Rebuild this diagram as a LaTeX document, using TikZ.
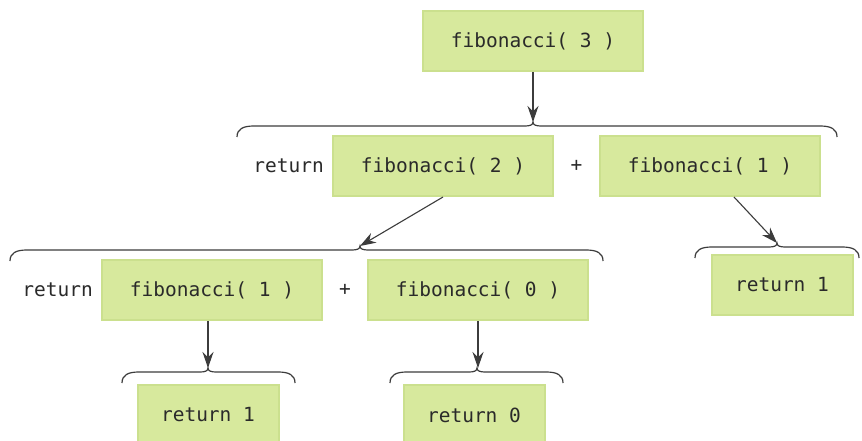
\documentclass[tikz,border=0pt]{standalone}
\usepackage{fontspec}
\setmonofont{DejaVu Sans Mono}
\usepackage{xcolor}
\usetikzlibrary{positioning,arrows.meta}
\definecolor{verdecaja}{HTML}{D7E99D}
\definecolor{bordecaja}{HTML}{CBE08E}
\definecolor{linea}{HTML}{3C3C3C}
\definecolor{texto}{HTML}{2A2A2A}

% llave horizontal: izquierda, derecha, punta, y
\newcommand{\llave}[4]{%
  \draw[linea, line width=1.2pt] (#1,#4) .. controls (#1,#4-8) and (#1+6,#4-11) .. (#1+17,#4-11)
    -- (#3-8,#4-11) .. controls (#3-3,#4-11) and (#3,#4-12) .. (#3,#4-15)
    .. controls (#3,#4-12) and (#3+3,#4-11) .. (#3+8,#4-11)
    -- (#2-17,#4-11) .. controls (#2-6,#4-11) and (#2,#4-8) .. (#2,#4);}

\begin{document}
\begin{tikzpicture}[x=1pt, y=-1pt, font=\fontsize{19.5}{23}\selectfont\ttfamily,
      caja/.style={fill=verdecaja, draw=bordecaja, line width=2pt, minimum width=220pt,
                   minimum height=60pt, inner sep=0pt, text=texto},
      ret/.style={caja, minimum width=141pt},
      txt/.style={inner sep=0pt, text=texto},
      flecha/.style={-{Stealth[length=16pt, width=11pt]}, draw=linea, line width=1.1pt}]
    \useasboundingbox (0,0) rectangle (862,441);
    \clip (0,0) rectangle (862,441);
    \fill[white] (0,0) rectangle (862,441);

    \node[caja] (f3) at (533,41) {fibonacci( 3 )};
    % segunda fila
    \node[caja] (f2) at (443,166) {fibonacci( 2 )};
    \node[caja, right=45pt of f2] (f1a) {fibonacci( 1 )};
    \node[txt, left=8pt of f2] (r2) {return};
    \path (f2) -- node[txt] (s2) {+} (f1a);
    % tercera fila
    \node[caja] (f1b) at (212,290) {fibonacci( 1 )};
    \node[caja, right=44pt of f1b] (f0) {fibonacci( 0 )};
    \node[txt, left=8pt of f1b] (r3) {return};
    \path (f1b) -- node[txt] (s3) {+} (f0);
    \node[ret] (r1a) at (782,285) {return 1};
    % cuarta fila
    \node[ret] (r1b) at (208,415) {return 1};
    \node[ret] (r0) at (474,415) {return 0};

    % llaves
    \llave{237}{837}{533}{137}
    \llave{10}{603}{360}{261}
    \llave{695}{859}{777}{258}
    \llave{122}{295}{208}{383}
    \llave{390}{563}{477}{383}
    \coordinate (p3) at (533,122);
    \coordinate (p2) at (360,246);
    \coordinate (p1) at (777,243);
    \coordinate (q1) at (208,368);
    \coordinate (q0) at ([yshift=-47pt]f0.south);

    \draw[flecha] (f3.south) -- (p3);
    \draw[flecha] (f2.south) -- (p2);
    \draw[flecha] ([xshift=24pt]f1a.south) -- (p1);
    \draw[flecha] ([xshift=-4pt]f1b.south) -- (q1);
    \draw[flecha] (f0.south) -- (q0);
  \end{tikzpicture}
\end{document}
